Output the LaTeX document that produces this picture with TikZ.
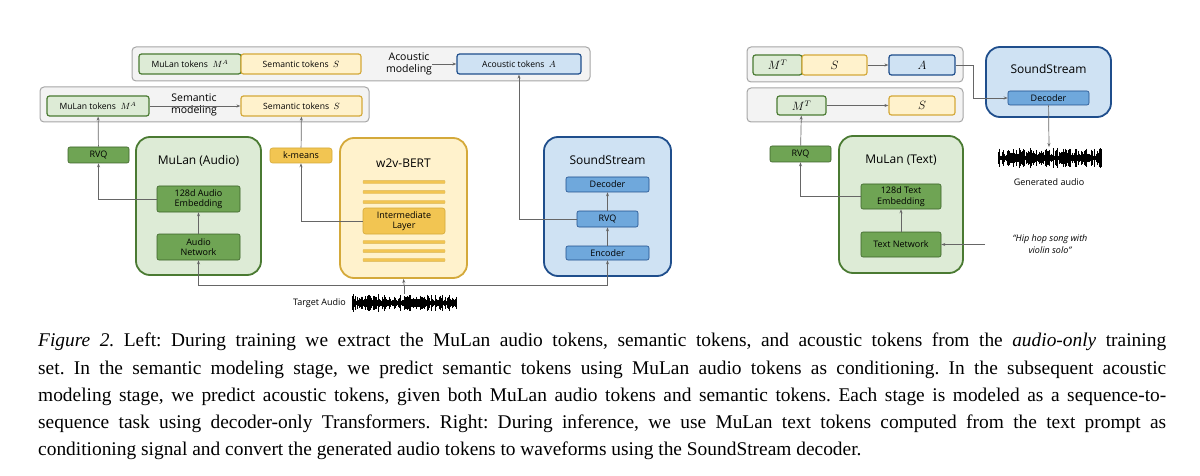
\documentclass[tikz,border=0pt]{standalone}
\usepackage{fontspec}
\setmainfont{Liberation Serif}
\newfontfamily\dsans{Open Sans}
\usetikzlibrary{arrows.meta}
\definecolor{gL}{HTML}{DDEBD6}\definecolor{gB}{HTML}{4A7A32}\definecolor{gD}{HTML}{6FA454}
\definecolor{yL}{HTML}{FFF2CC}\definecolor{yB}{HTML}{D4A93A}\definecolor{yD}{HTML}{F2C552}
\definecolor{bL}{HTML}{CFE2F3}\definecolor{bB}{HTML}{1F4E8C}\definecolor{bD}{HTML}{6FA8DC}
\definecolor{outer}{HTML}{F3F3F3}
\begin{document}
\frenchspacing
\begin{tikzpicture}[x=1pt,y=-1pt,
  every node/.style={font=\dsans\fontsize{8.6}{9}\selectfont, inner sep=0pt, align=center},
  box/.style={draw, minimum width=#1, rounded corners=2.5pt, line width=1.2pt},
  outerbox/.style={draw=gray!70, fill=outer, rounded corners=4pt, line width=1pt},
  big/.style={draw, rounded corners=14pt, line width=1.8pt},
  gtok/.style={box=#1, fill=gL, draw=gB, minimum height=20pt},
  ytok/.style={box=#1, fill=yL, draw=yB, minimum height=20pt},
  btok/.style={box=#1, fill=bL, draw=bB, minimum height=20pt},
  gblk/.style={box=#1, fill=gD, draw=gB!80!black, line width=0.6pt, rounded corners=2pt},
  bblk/.style={box=#1, fill=bD, draw=bB, line width=0.6pt, rounded corners=2pt},
  title/.style={font=\dsans\fontsize{12}{13}\selectfont},
  sm/.style={font=\dsans\fontsize{9}{10.5}\selectfont},
  arr/.style={draw=gray!80!black, line width=0.7pt, -{Stealth[length=4pt,width=3pt]}},
  ln/.style={draw=gray!80!black, line width=0.7pt}]
\useasboundingbox (0,0) rectangle (1200,476);
% ---------- left top rows
\node[outerbox, minimum width=458pt, minimum height=34pt] (ao) at (361,64) {};
\node[gtok=102pt] (m1) at (190,64) {MuLan tokens \ $M^A$};
\node[ytok=120pt] (s1) at (301,64) {Semantic tokens \ $S$};
\node[font=\dsans\fontsize{10.5}{11.5}\selectfont] (acm) at (409,64) {Acoustic\\modeling};
\node[btok=124pt] (a1) at (519,64) {Acoustic tokens \ $A$};
\draw[arr] (acm) -- (a1);
\node[outerbox, minimum width=329pt, minimum height=35pt] (so) at (204.5,104.5) {};
\node[gtok=102pt] (m2) at (98,106) {MuLan tokens \ $M^A$};
\node[font=\dsans\fontsize{10.5}{11.5}\selectfont] (sem) at (194,105) {Semantic\\modeling};
\node[ytok=121pt] (s2) at (301.5,106) {Semantic tokens \ $S$};
\draw[arr] (m2) -- (s2);
% ---------- MuLan audio
\node[gblk=61pt, minimum height=16pt, sm] (rvq1) at (98.5,155) {RVQ};
\node[big, fill=gL, draw=gB, minimum width=125pt, minimum height=138pt] (mla) at (198.5,206) {};
\node[title] at (198.5,161) {MuLan (Audio)};
\node[gblk=83pt, minimum height=26pt, sm] (emb1) at (198.5,199) {128d Audio\\Embedding};
\node[gblk=83pt, minimum height=26pt, sm] (an) at (198.5,247) {Audio\\Network};
\draw[arr] (an) -- (emb1);
\draw[arr] (emb1.west) -| (rvq1.south);
\draw[arr] (rvq1) -- (m2);
% ---------- w2v-BERT
\node[box=62pt, fill=yD, draw=yB, line width=0.6pt, minimum height=15pt, sm] (km) at (301,155.5) {k-means};
\node[big, fill=yL, draw=yB, minimum width=127pt, minimum height=140pt] (w2v) at (403.5,208) {};
\node[title] at (403.5,163) {w2v-BERT};
\foreach \yy in {182,192,202,242,251,260}
  \fill[yD, draw=yB!80, line width=0.3pt, rounded corners=0.8pt] (363,\yy-1.6) rectangle (445,\yy+1.6);
\node[box=82pt, fill=yD, draw=yB, line width=0.6pt, minimum height=26pt, sm] (il) at (404,221) {Intermediate\\Layer};
\draw[arr] (il.west) -| (km.south);
\draw[arr] (km) -- (s2);
% ---------- SoundStream left
\node[big, fill=bL, draw=bB, minimum width=127pt, minimum height=139pt] (ssl) at (607.5,206.5) {};
\node[title] at (607.5,160) {SoundStream};
\node[bblk=83pt, minimum height=15pt, sm] (dec1) at (607.5,184.5) {Decoder};
\node[bblk=61pt, minimum height=16pt, sm] (rvq2) at (607.5,219) {RVQ};
\node[bblk=83pt, minimum height=14pt, sm] (enc) at (607.5,253) {Encoder};
\draw[arr] (enc) -- (rvq2);
\draw[arr] (rvq2) -- (dec1);
\draw[arr] (rvq2.west) -| (a1.south);
% ---------- target audio
\pgfmathsetseed{11}
\foreach \i in {0,...,104}{
  \pgfmathsetmacro{\h}{2+7*rnd}
  \draw[line width=0.8pt] (352+\i,303-\h) -- (352+\i,303+\h);}
\coordinate (wav1) at (404,294);
\node[sm, anchor=east] (ta) at (346,303) {Target Audio};
\coordinate (tj) at (404,285);
\draw[ln] (wav1) -- (tj);
\draw[arr] (tj) -- (w2v.south);
\draw[arr] (tj) -| (an.south |- mla.south) -- (an.south);
\draw[arr] (tj) -| (enc.south);
% ---------- right side
\node[outerbox, minimum width=216pt, minimum height=35pt] (ro1) at (855,64.5) {};
\node[gtok=49pt, font=\fontsize{12}{12}\selectfont] (mt1) at (777.5,65) {$M^T$};
\node[ytok=65pt, font=\fontsize{12}{12}\selectfont] (st1) at (834.5,65) {$S$};
\node[btok=66pt, font=\fontsize{12}{12}\selectfont] (at1) at (922,65) {$A$};
\draw[arr] (st1) -- (at1);
\node[outerbox, minimum width=216pt, minimum height=34pt] (ro2) at (855,105) {};
\node[gtok=49pt, minimum height=19pt, font=\fontsize{12}{12}\selectfont] (mt2) at (801.5,105.5) {$M^T$};
\node[ytok=66pt, minimum height=19pt, font=\fontsize{12}{12}\selectfont] (st2) at (922,105.5) {$S$};
\draw[arr] (mt2) -- (st2);
\node[big, fill=bL, draw=bB, minimum width=125pt, minimum height=70pt] (ssr) at (1048.5,82) {};
\node[title] at (1048.5,69) {SoundStream};
\node[bblk=81pt, minimum height=14pt, sm] (dec2) at (1048.5,98) {Decoder};
\coordinate (bend) at (973,98);
\draw[ln] (at1.east) -| (bend);
\draw[arr] (bend) -- (dec2.west);
\pgfmathsetseed{5}
\foreach \i in {0,...,103}{
  \pgfmathsetmacro{\h}{2+8*rnd}
  \draw[line width=0.8pt] (998+\i,158-\h) -- (998+\i,158+\h);}
\coordinate (wav2) at (1049,147);
\draw[arr] (dec2) -- (wav2);
\node[sm] (ga) at (1049,182) {Generated audio};
\node[gblk=61pt, minimum height=16pt, sm] (rvq3) at (800.5,154) {RVQ};
\node[big, fill=gL, draw=gB, minimum width=124pt, minimum height=137pt] (mlt) at (901,204.5) {};
\node[title] at (901,160) {MuLan (Text)};
\node[gblk=80pt, minimum height=25pt, sm] (emb2) at (901,196.5) {128d Text\\Embedding};
\node[gblk=80pt, minimum height=25pt, sm] (tn) at (901,244.5) {Text Network};
\draw[arr] (tn) -- (emb2);
\draw[arr] (emb2.west) -| (rvq3.south);
\draw[arr] (rvq3) -- (mt2);
\node[font=\dsans\itshape\fontsize{9}{12}\selectfont] (q) at (1050,244) {“Hip hop song with\\violin solo”};
\coordinate (qs) at (985,244.5);
\draw[arr] (qs) -- (tn.east);
% ---------- caption
\node[anchor=north west, text width=1128pt, align=justify, font=\fontsize{19.4}{27.2}\selectfont] (cap) at (38,333) {%
\textit{Figure 2.} Left: During training we extract the MuLan audio tokens, semantic tokens, and acoustic tokens from the \textit{audio-only} training\linebreak
set. In the semantic modeling stage, we predict semantic tokens using MuLan audio tokens as conditioning. In the subsequent acoustic\linebreak
modeling stage, we predict acoustic tokens, given both MuLan audio tokens and semantic tokens. Each stage is modeled as a sequence-to-\linebreak
sequence task using decoder-only Transformers. Right: During inference, we use MuLan text tokens computed from the text prompt as\linebreak
conditioning signal and convert the generated audio tokens to waveforms using the SoundStream decoder.};
\end{tikzpicture}
\end{document}
